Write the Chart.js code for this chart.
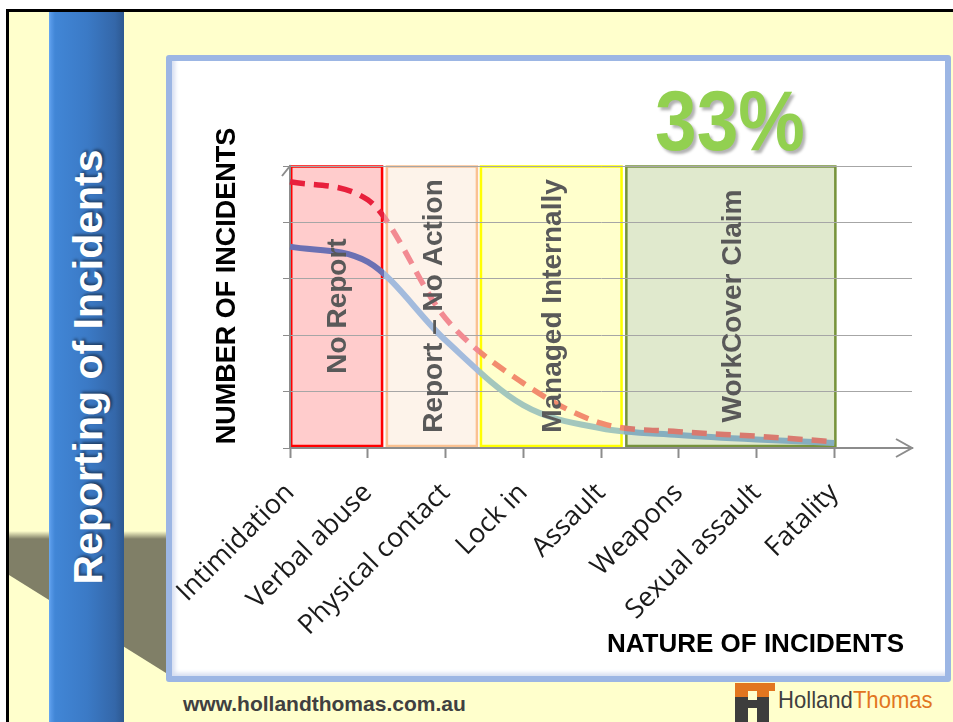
<!DOCTYPE html>
<html>
<head>
<meta charset="utf-8">
<title>Reporting of Incidents</title>
<script src="https://cdn.jsdelivr.net/npm/chart.js@4.4.0/dist/chart.umd.min.js"></script>
<style>
  html, body { margin: 0; padding: 0; background: #fff; }
  body { width: 953px; height: 722px; position: relative; overflow: hidden; font-family: "Liberation Sans", Arial, sans-serif; }
  #slide { position: absolute; left: 6px; top: 9px; width: 947px; height: 713px; background: #ffffcc;
           border-top: 3px solid #000; border-left: 3px solid #000; box-sizing: border-box; }
  #shadow { position: absolute; left: 9px; top: 531px; width: 157px; height: 142px;
            background: linear-gradient(to bottom, rgba(128,127,103,0) 0px, #807f67 8px);
            clip-path: polygon(0 0, 157px 0, 157px 142px, 0 44px); }
  #bar { position: absolute; left: 49px; top: 12px; width: 75px; bottom: 0;
         background: linear-gradient(to right, #6aaaf2 0px, #5597e6 2px, #4186d6 6px, #3b7ac6 38px, #3467a9 66px, #2d5890 75px); }
  #side { position: absolute; left: -162px; top: 342px; width: 500px; height: 50px; line-height: 50px;
          text-align: center; color: #fff; font-weight: bold; font-size: 41px;
          transform: rotate(-90deg); text-shadow: 2px 2px 3px rgba(0,0,0,0.45); }
  #box { position: absolute; left: 166px; top: 55px; width: 785px; height: 627px; box-sizing: border-box;
         border: 6px solid #9cb6e4; border-radius: 3px; background: #fff;
         box-shadow: inset 4px -4px 4px -1px #d6def1; }
  #wrap { position: absolute; left: 171px; top: 61px; width: 773px; height: 612px; }
  #pct { position: absolute; left: 580px; top: 77px; width: 300px; text-align: center;
         font-weight: bold; font-size: 86px; line-height: 86px; color: #92d050;
         transform: scaleX(0.87); text-shadow: 3px 3px 3px rgba(0,0,0,0.3); }
  #web { position: absolute; left: 183px; top: 692px; line-height: 24px; font-size: 21px; font-weight: bold; color: #404040; }
  #logo { position: absolute; left: 735px; top: 683px; width: 40px; height: 39px; }
  #logo div { position: absolute; }
  #brand { position: absolute; left: 778px; top: 686px; font-size: 24px; line-height: 28px; color: #3f3f3f;
           transform: scaleX(0.92); transform-origin: left center; }
  #brand span { color: #e2761f; }
</style>
</head>
<body>
<div id="slide"></div>
<div id="shadow"></div>
<div id="bar"></div>
<div id="side">Reporting of Incidents</div>
<div id="box"></div>
<div id="wrap"><canvas id="myChart" width="773" height="612"></canvas></div>
<div id="pct">33%</div>
<div id="web">www.hollandthomas.com.au</div>
<div id="logo">
  <div style="left:0;top:14px;width:13px;height:25px;background:#3d3d3d"></div>
  <div style="left:0;top:0;width:13px;height:14px;background:#e2761f"></div>
  <div style="left:13px;top:17px;width:10px;height:8px;background:#3d3d3d"></div>
  <div style="left:13px;top:0;width:27px;height:8px;background:#e2761f"></div>
  <div style="left:22px;top:8px;width:12px;height:6px;background:#e2761f"></div>
  <div style="left:22px;top:14px;width:12px;height:25px;background:#3d3d3d"></div>
</div>
<div id="brand">Holland<span>Thomas</span></div>

<script>
// categories along the x axis
var categories = ['Intimidation', 'Verbal abuse', 'Physical contact', 'Lock in', 'Assault', 'Weapons', 'Sexual assault', 'Fatality']

// solid curve (reported) and dashed curve (actual)
var reported = [3.57, 3.30, 1.91, 0.76, 0.35, 0.23, 0.15, 0.09]
var actual = [4.72, 4.40, 2.30, 1.15, 0.44, 0.29, 0.21, 0.11]

// shaded bands, in category units
var bandNames = ['No Report', 'Report \u2013 No Action', 'Managed Internally', 'WorkCover Claim']
var bandStart = [0, 1.23, 2.44, 4.31]
var bandEnd = [1.2, 2.42, 4.28, 7.03]

var yMax = 5

// styles
var bandFill = ['#ffcccc', '#fdf3ea', '#ffffcc', '#e0e9cd']
var bandLine = ['#ff0000', '#fac191', '#ffff00', '#77933c']
var solidColors = ['#6b70b3', '#a3bbdd', '#a3c7bd', '#86aebf']
var dashColors = ['#e8203c', '#f28a92', '#f28c6e', '#d97a6f']
var axisGray = '#8c8c8c'

function bandStroke(colors) {
    return function (context) {
        var chart = context.chart
        var area = chart.chartArea
        if (!area) return colors[0]
        var xs = chart.scales.x
        var w = area.right - area.left
        var frac = function (v) {
            return Math.min(1, Math.max(0, (xs.getPixelForValue(v) - area.left) / w))
        }
        var g = chart.ctx.createLinearGradient(area.left, 0, area.right, 0)
        for (var i = 0; i < colors.length; i++) {
            var a = i === 0 ? 0 : frac((bandEnd[i - 1] + bandStart[i]) / 2)
            var b = i === colors.length - 1 ? 1 : frac((bandEnd[i] + bandStart[i + 1]) / 2)
            g.addColorStop(a, colors[i])
            g.addColorStop(b, colors[i])
        }
        return g
    }
}

var bands = {
    id: 'bands',
    beforeDraw: function (chart) {
        var ctx = chart.ctx, xs = chart.scales.x, ys = chart.scales.y, a = chart.chartArea
        ctx.save()
        // axis arrows
        ctx.strokeStyle = axisGray
        ctx.lineWidth = 2
        ctx.beginPath()
        ctx.moveTo(a.left - 8, a.top + 10); ctx.lineTo(a.left, a.top); ctx.lineTo(a.left + 8, a.top + 10)
        ctx.moveTo(a.right - 16, a.bottom - 9); ctx.lineTo(a.right, a.bottom); ctx.lineTo(a.right - 16, a.bottom + 9)
        ctx.stroke()
        // boxes
        var t = ys.getPixelForValue(yMax), b = ys.getPixelForValue(0)
        for (var i = 0; i < bandNames.length; i++) {
            var l = xs.getPixelForValue(bandStart[i]), r = xs.getPixelForValue(bandEnd[i])
            ctx.fillStyle = bandFill[i]
            ctx.fillRect(l, t, r - l, b - t - 1)
            ctx.strokeStyle = bandLine[i]
            ctx.lineWidth = 2.5
            ctx.strokeRect(l + 1.25, t + 0.5, r - l - 2.5, b - t - 2.5)
        }
        ctx.restore()
    },
    afterDatasetsDraw: function (chart) {
        var ctx = chart.ctx, xs = chart.scales.x, ys = chart.scales.y
        var cy = (ys.getPixelForValue(yMax) + ys.getPixelForValue(0)) / 2
        ctx.save()
        ctx.fillStyle = '#595959'
        ctx.font = 'bold 28px "Liberation Sans", Arial, sans-serif'
        ctx.textAlign = 'center'
        ctx.textBaseline = 'middle'
        for (var i = 0; i < bandNames.length; i++) {
            var cx = (xs.getPixelForValue(bandStart[i]) + xs.getPixelForValue(bandEnd[i])) / 2
            ctx.save()
            ctx.translate(cx + 2, cy - 1)
            ctx.rotate(-Math.PI / 2)
            ctx.fillText(bandNames[i], 0, 0)
            ctx.restore()
        }
        ctx.restore()
    },
    afterDraw: function (chart) {
        var ctx = chart.ctx, a = chart.chartArea
        ctx.save()
        ctx.fillStyle = '#000'
        ctx.font = 'bold 27px "Liberation Sans", Arial, sans-serif'
        ctx.textBaseline = 'middle'
        ctx.textAlign = 'center'
        ctx.translate(a.left - 62, (a.top + a.bottom) / 2 - 21)
        ctx.rotate(-Math.PI / 2)
        ctx.fillText('NUMBER OF INCIDENTS', 0, 0)
        ctx.restore()
        ctx.save()
        ctx.fillStyle = '#000'
        ctx.font = 'bold 26px "Liberation Sans", Arial, sans-serif'
        ctx.textBaseline = 'middle'
        ctx.textAlign = 'right'
        ctx.fillText('NATURE OF INCIDENTS', a.right - 8, a.bottom + 197)
        ctx.restore()
    }
}

var chart = new Chart(document.getElementById('myChart'), {
    type: 'line',
    data: {
        labels: categories.concat(['']),
        datasets: [
            {
                label: 'Actual',
                data: actual,
                borderColor: bandStroke(dashColors),
                borderWidth: 5.5,
                borderDash: [15, 9],
                cubicInterpolationMode: 'monotone',
                pointRadius: 0,
                fill: false,
                order: 0
            },
            {
                label: 'Reported',
                data: reported,
                borderColor: bandStroke(solidColors),
                borderWidth: 6,
                cubicInterpolationMode: 'monotone',
                pointRadius: 0,
                fill: false,
                order: 1
            }
        ]
    },
    options: {
        responsive: false,
        animation: false,
        layout: { padding: { left: 0, top: 105, right: 32, bottom: 0 } },
        plugins: { legend: { display: false }, tooltip: { enabled: false } },
        scales: {
            x: {
                offset: false,
                afterFit: function (scale) {
                    scale.height = 225
                    scale.paddingLeft = 0
                    scale.paddingRight = 0
                },
                border: { display: true, color: axisGray, width: 2 },
                grid: {
                    drawOnChartArea: false,
                    tickLength: 10,
                    tickWidth: 2,
                    tickColor: function (ctx) { return ctx.index === categories.length ? 'rgba(0,0,0,0)' : axisGray }
                },
                ticks: {
                    autoSkip: false,
                    minRotation: 45,
                    maxRotation: 45,
                    padding: 19,
                    color: '#1a1a1a',
                    font: { family: '"Open Sans", sans-serif', size: 27 }
                }
            },
            y: {
                min: 0,
                max: yMax,
                afterFit: function (scale) {
                    scale.width = 119
                    scale.paddingTop = 0
                    scale.paddingBottom = 0
                },
                border: { display: true, color: axisGray, width: 2 },
                grid: { color: '#a6a6a6', lineWidth: 1, tickLength: 7, tickColor: axisGray },
                ticks: { stepSize: 1, display: false }
            }
        }
    },
    plugins: [bands]
})
</script>
</body>
</html>
